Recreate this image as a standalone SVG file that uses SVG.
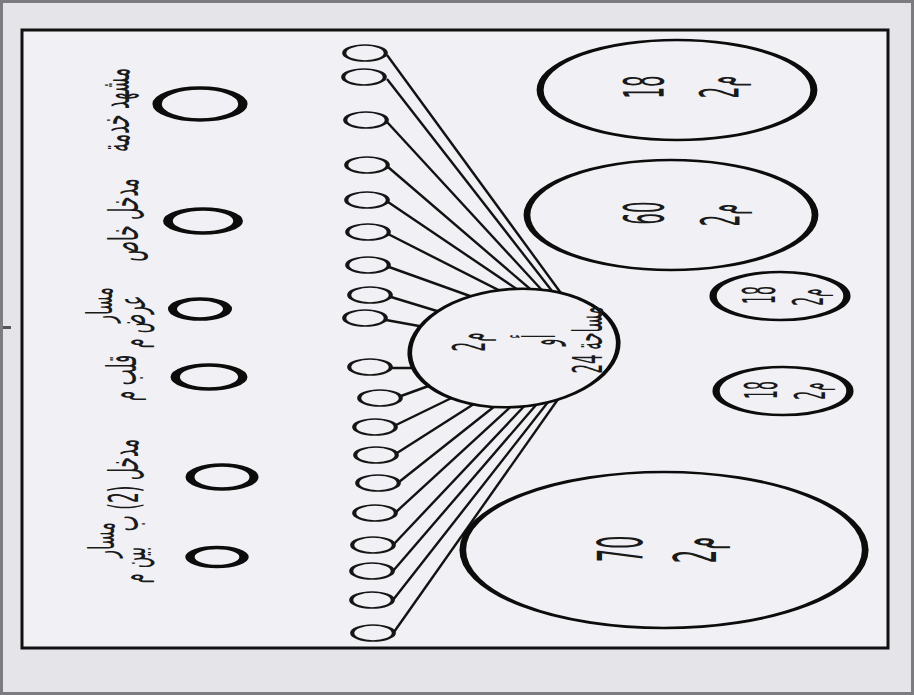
<svg xmlns="http://www.w3.org/2000/svg" width="914" height="695" viewBox="0 0 914 695">
<style>
.ln{stroke:#121212;stroke-width:2.4;fill:none}
.ov{fill:#f1f1f5;stroke:#0c0c0c;stroke-width:2.6}
.lg{fill:none;stroke:#0c0c0c;stroke-width:3.6}
.sm{fill:#f1f1f5;stroke:#151515;stroke-width:1.6}
.t{font-family:"DejaVu Sans","Liberation Sans",sans-serif;fill:#1a1a1a;text-anchor:middle;dominant-baseline:central}
</style>
<rect x="0" y="0" width="914" height="695" fill="#7c7c80"/>
<rect x="3" y="3" width="908" height="689" fill="#e4e4e9"/>
<rect x="22" y="30" width="866" height="618" fill="#f1f1f5" stroke="#111" stroke-width="3"/>
<rect x="3" y="326" width="8" height="3" fill="#555"/>
<g id="connectors">
<line class="ln" x1="387" y1="55" x2="566" y2="300"/>
<line class="ln" x1="387" y1="79" x2="559" y2="300"/>
<line class="ln" x1="387" y1="122" x2="551" y2="300"/>
<line class="ln" x1="388" y1="167" x2="543" y2="300"/>
<line class="ln" x1="388" y1="202" x2="533" y2="300"/>
<line class="ln" x1="388" y1="234" x2="518" y2="300"/>
<line class="ln" x1="389" y1="267" x2="495" y2="305"/>
<line class="ln" x1="391" y1="297" x2="450" y2="315"/>
<line class="ln" x1="386" y1="320" x2="430" y2="328"/>
<line class="ln" x1="391" y1="368" x2="425" y2="368"/>
<line class="ln" x1="401" y1="396" x2="445" y2="380"/>
<line class="ln" x1="396" y1="425" x2="468" y2="390"/>
<line class="ln" x1="397" y1="453" x2="488" y2="395"/>
<line class="ln" x1="399" y1="482" x2="505" y2="398"/>
<line class="ln" x1="396" y1="512" x2="519" y2="399"/>
<line class="ln" x1="394" y1="544" x2="531" y2="399"/>
<line class="ln" x1="393" y1="571" x2="542" y2="398"/>
<line class="ln" x1="393" y1="600" x2="552" y2="397"/>
<line class="ln" x1="394" y1="632" x2="561" y2="395"/>
</g>
<g id="ports">
<g transform="translate(365,53) scale(2.6,1)"><ellipse class="sm" rx="8" ry="8"/></g>
<g transform="translate(364,77) scale(2.6,1)"><ellipse class="sm" rx="8" ry="8"/></g>
<g transform="translate(366,120) scale(2.6,1)"><ellipse class="sm" rx="8" ry="8"/></g>
<g transform="translate(367,165) scale(2.6,1)"><ellipse class="sm" rx="8" ry="8"/></g>
<g transform="translate(367,200) scale(2.6,1)"><ellipse class="sm" rx="8" ry="8"/></g>
<g transform="translate(368,232) scale(2.6,1)"><ellipse class="sm" rx="8" ry="8"/></g>
<g transform="translate(368,265) scale(2.6,1)"><ellipse class="sm" rx="8" ry="8"/></g>
<g transform="translate(370,295) scale(2.6,1)"><ellipse class="sm" rx="8" ry="8"/></g>
<g transform="translate(365,318) scale(2.6,1)"><ellipse class="sm" rx="8" ry="8"/></g>
<g transform="translate(370,367) scale(2.6,1)"><ellipse class="sm" rx="8" ry="8"/></g>
<g transform="translate(380,398) scale(2.6,1)"><ellipse class="sm" rx="8" ry="8"/></g>
<g transform="translate(375,427) scale(2.6,1)"><ellipse class="sm" rx="8" ry="8"/></g>
<g transform="translate(376,455) scale(2.6,1)"><ellipse class="sm" rx="8" ry="8"/></g>
<g transform="translate(378,483) scale(2.6,1)"><ellipse class="sm" rx="8" ry="8"/></g>
<g transform="translate(375,513) scale(2.6,1)"><ellipse class="sm" rx="8" ry="8"/></g>
<g transform="translate(373,545) scale(2.6,1)"><ellipse class="sm" rx="8" ry="8"/></g>
<g transform="translate(372,571) scale(2.6,1)"><ellipse class="sm" rx="8" ry="8"/></g>
<g transform="translate(372,600) scale(2.6,1)"><ellipse class="sm" rx="8" ry="8"/></g>
<g transform="translate(373,633) scale(2.6,1)"><ellipse class="sm" rx="8" ry="8"/></g>
</g>
<g id="center">
<g transform="translate(514,348) rotate(-4) scale(1.8,1)"><ellipse class="ov" rx="58" ry="59"/></g>
<text class="t" font-size="15" transform="translate(470,342) scale(3,1) rotate(-90)">م2</text>
<text class="t" font-size="15" transform="translate(540,340) scale(3,1) rotate(-90)">أو</text>
<text class="t" font-size="15" transform="translate(588,340) scale(2.7,1) rotate(-90)">مساحة 24</text>
</g>
<g id="n18a">
<g transform="translate(677,90) scale(2.7,1)"><ellipse class="ov" rx="50.7" ry="50"/></g>
<text class="t" font-size="18" transform="translate(644,87) scale(3.1,1) rotate(-90)">18</text>
<text class="t" font-size="18" transform="translate(719,87) scale(3,1) rotate(-90)">م2</text>
</g>
<g id="n60">
<g transform="translate(671,215) scale(2.6,1)"><ellipse class="ov" rx="55.4" ry="55"/></g>
<text class="t" font-size="18" transform="translate(644,213) scale(3.1,1) rotate(-90)">60</text>
<text class="t" font-size="18" transform="translate(720,215) scale(3,1) rotate(-90)">م2</text>
</g>
<g id="n18b">
<g transform="translate(780,296) scale(2.8,1)"><ellipse class="ov" rx="23.9" ry="24"/></g>
<text class="t" font-size="14" transform="translate(759,295) scale(3.2,1) rotate(-90)">18</text>
<text class="t" font-size="14" transform="translate(808,297) scale(3,1) rotate(-90)">م2</text>
</g>
<g id="n18c">
<g transform="translate(783,391) scale(2.8,1)"><ellipse class="ov" rx="23.9" ry="24"/></g>
<text class="t" font-size="14" transform="translate(761,390) scale(3.2,1) rotate(-90)">18</text>
<text class="t" font-size="14" transform="translate(810,391) scale(3,1) rotate(-90)">م2</text>
</g>
<g id="n70">
<g transform="translate(664,550) scale(2.58,1)"><ellipse class="ov" rx="78" ry="78"/></g>
<text class="t" font-size="21" transform="translate(620,549) scale(3,1) rotate(-90)">70</text>
<text class="t" font-size="21" transform="translate(695,550) scale(2.8,1) rotate(-90)">م2</text>
</g>
<g id="legend1">
<g transform="translate(200,104) scale(2.6,1)"><ellipse class="lg" rx="16.5" ry="16"/></g>
<text class="t" font-size="17" transform="translate(115,110) scale(2.4,1) rotate(-90)">مشهد خدمة</text>
</g>
<g id="legend2">
<g transform="translate(203,221) scale(2.7,1)"><ellipse class="lg" rx="13" ry="12"/></g>
<text class="t" font-size="17" transform="translate(124,220) scale(2.4,1) rotate(-90)">مدخل خاص</text>
</g>
<g id="legend3">
<g transform="translate(200,309) scale(2.5,1)"><ellipse class="lg" rx="11" ry="10"/></g>
<text class="t" font-size="16" transform="translate(100,305) scale(2.2,1) rotate(-90)">مسار</text>
<text class="t" font-size="16" transform="translate(132,322) scale(2.4,1) rotate(-90)">عرض م</text>
</g>
<g id="legend4">
<g transform="translate(209,377) scale(2.6,1)"><ellipse class="lg" rx="13" ry="12"/></g>
<text class="t" font-size="17" transform="translate(122,378) scale(2.4,1) rotate(-90)">قلب م</text>
</g>
<g id="legend5">
<g transform="translate(222,477) scale(2.5,1)"><ellipse class="lg" rx="12.8" ry="12"/></g>
<text class="t" font-size="17" transform="translate(124,485) scale(2.4,1) rotate(-90)">مدخل (2) ب</text>
</g>
<g id="legend6">
<g transform="translate(217,557) scale(2.6,1)"><ellipse class="lg" rx="10.4" ry="9.5"/></g>
<text class="t" font-size="16" transform="translate(102,540) scale(2.2,1) rotate(-90)">مسار</text>
<text class="t" font-size="16" transform="translate(132,565) scale(2.4,1) rotate(-90)">بين م</text>
</g>
</svg>
